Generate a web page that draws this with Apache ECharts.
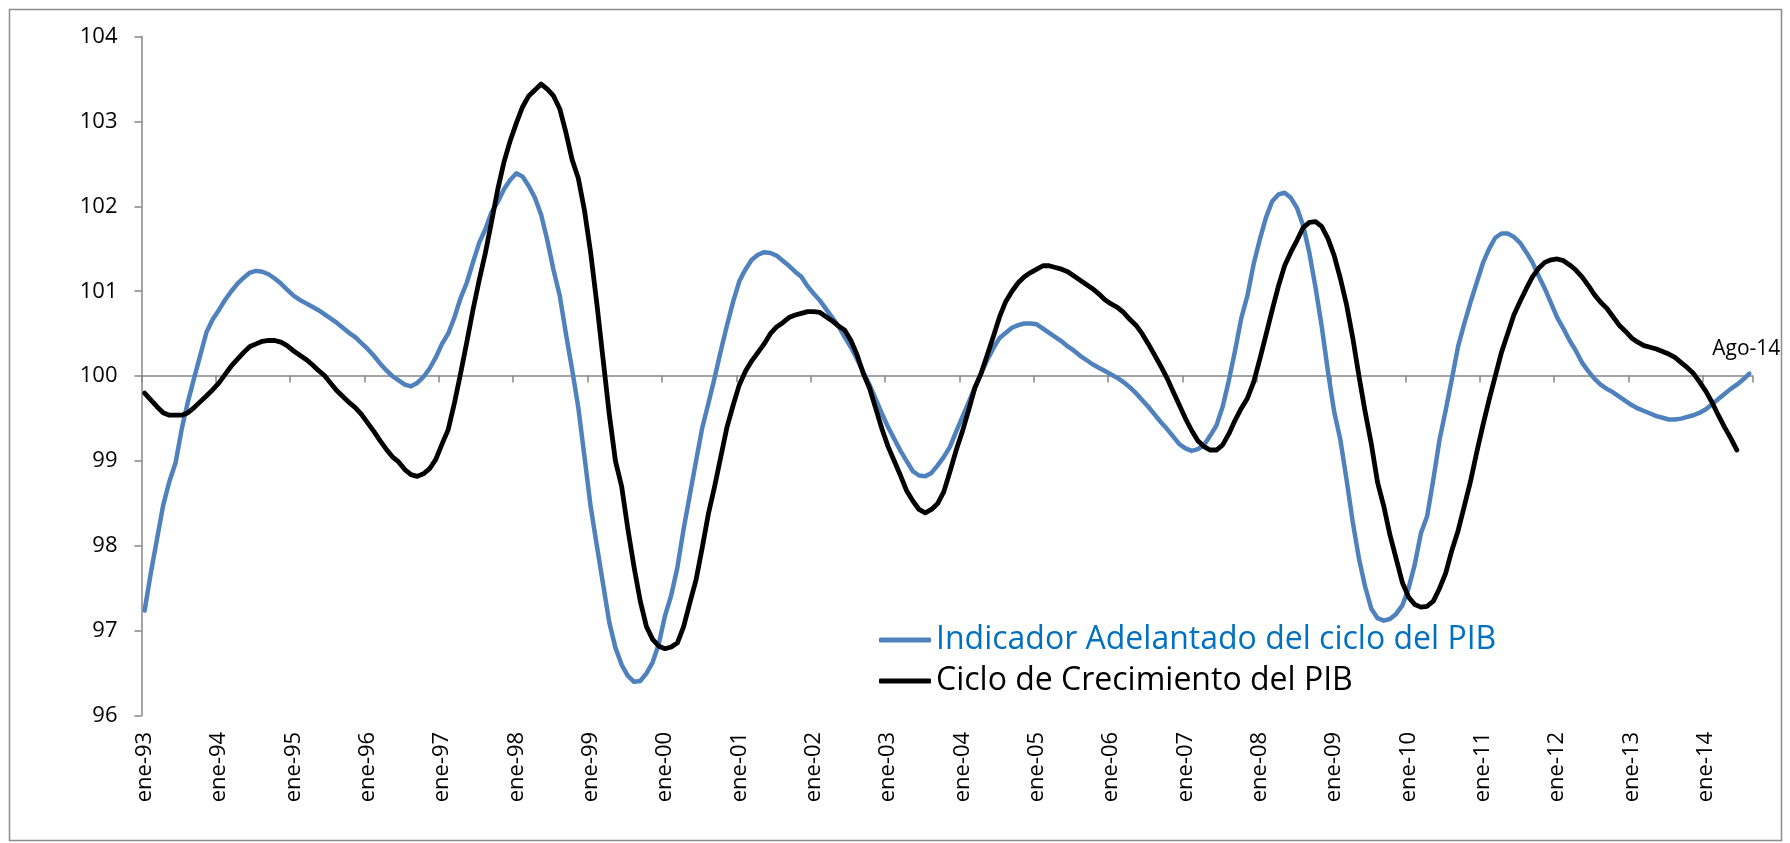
<!DOCTYPE html>
<html>
<head>
<meta charset="utf-8">
<script src="https://cdn.jsdelivr.net/npm/echarts@6/dist/echarts.min.js"></script>
<style>
  html, body { margin: 0; padding: 0; background: #ffffff; }
  #chart { width: 1790px; height: 843px; }
</style>
</head>
<body>
<div id="chart"></div>
<script>
// ---- Data (monthly, ene-93 .. ago-14) ----
const monthNames = ['ene','feb','mar','abr','may','jun','jul','ago','sep','oct','nov','dic'];
const yearLabels = ['93','94','95','96','97','98','99','00','01','02','03','04','05','06','07','08','09','10','11','12','13','14'];
const lastLabel = 'Ago-14';

const indicadorName = 'Indicador Adelantado del ciclo del PIB';
const cicloName = 'Ciclo de Crecimiento del PIB';

// Indicador Adelantado del ciclo del PIB (ene-93 .. ago-14)
const indicadorAdelantado = [
  97.24, 97.68, 98.08, 98.48, 98.76, 98.98, 99.38, 99.70, 99.98, 100.25, 100.52, 100.67,
  100.78, 100.90, 101.00, 101.09, 101.16, 101.22, 101.24, 101.23, 101.20, 101.15, 101.09, 101.02,
  100.95, 100.90, 100.86, 100.82, 100.78, 100.73, 100.68, 100.63, 100.57, 100.51, 100.46, 100.39,
  100.32, 100.24, 100.15, 100.07, 100.00, 99.95, 99.90, 99.88, 99.92, 99.99, 100.09, 100.22,
  100.38, 100.50, 100.69, 100.92, 101.10, 101.34, 101.57, 101.73, 101.93, 102.05, 102.20, 102.31,
  102.39, 102.35, 102.24, 102.10, 101.90, 101.60, 101.25, 100.95, 100.50, 100.08, 99.63, 99.05,
  98.46, 98.00, 97.55, 97.10, 96.80, 96.60, 96.47, 96.40, 96.41, 96.50, 96.63, 96.85,
  97.18, 97.42, 97.75, 98.20, 98.60, 99.00, 99.39, 99.68, 99.98, 100.30, 100.60, 100.88,
  101.12, 101.26, 101.37, 101.43, 101.46, 101.45, 101.42, 101.36, 101.30, 101.23, 101.17, 101.06,
  100.97, 100.89, 100.79, 100.69, 100.59, 100.46, 100.34, 100.20, 100.05, 99.90, 99.73, 99.56,
  99.40, 99.26, 99.12, 99.00, 98.88, 98.83, 98.82, 98.86, 98.95, 99.05, 99.17, 99.35,
  99.52, 99.69, 99.87, 100.03, 100.19, 100.33, 100.45, 100.51, 100.57, 100.60, 100.62, 100.62,
  100.61, 100.56, 100.51, 100.46, 100.41, 100.35, 100.30, 100.24, 100.19, 100.14, 100.10, 100.06,
  100.02, 99.98, 99.93, 99.87, 99.80, 99.72, 99.64, 99.55, 99.46, 99.38, 99.29, 99.20,
  99.15, 99.12, 99.14, 99.19, 99.30, 99.42, 99.64, 99.95, 100.30, 100.68, 100.95, 101.32,
  101.61, 101.87, 102.06, 102.14, 102.16, 102.10, 101.98, 101.77, 101.45, 101.04, 100.58, 100.05,
  99.58, 99.25, 98.78, 98.28, 97.85, 97.52, 97.26, 97.15, 97.12, 97.14, 97.20, 97.30,
  97.50, 97.78, 98.15, 98.35, 98.78, 99.25, 99.60, 99.97, 100.35, 100.62, 100.87, 101.10,
  101.33, 101.50, 101.63, 101.68, 101.68, 101.64, 101.57, 101.46, 101.34, 101.18, 101.03, 100.86,
  100.69, 100.56, 100.42, 100.30, 100.16, 100.06, 99.97, 99.90, 99.85, 99.81, 99.76, 99.71,
  99.66, 99.62, 99.59, 99.56, 99.53, 99.51, 99.49, 99.49, 99.50, 99.52, 99.54, 99.57,
  99.61, 99.67, 99.73, 99.79, 99.85, 99.90, 99.96, 100.03
];

// Ciclo de Crecimiento del PIB (ene-93 .. jun-14)
const cicloCrecimiento = [
  99.80, 99.72, 99.64, 99.57, 99.54, 99.54, 99.54, 99.57, 99.63, 99.70, 99.77, 99.84,
  99.92, 100.02, 100.12, 100.20, 100.28, 100.35, 100.38, 100.41, 100.42, 100.42, 100.40, 100.36,
  100.30, 100.25, 100.20, 100.14, 100.07, 100.01, 99.92, 99.83, 99.76, 99.69, 99.63, 99.55,
  99.45, 99.35, 99.24, 99.14, 99.05, 98.99, 98.90, 98.84, 98.82, 98.85, 98.91, 99.02,
  99.20, 99.37, 99.68, 100.03, 100.40, 100.78, 101.13, 101.45, 101.82, 102.20, 102.52, 102.77,
  102.98, 103.17, 103.30, 103.37, 103.44, 103.38, 103.30, 103.15, 102.87, 102.55, 102.33, 101.95,
  101.45, 100.85, 100.20, 99.55, 99.00, 98.70, 98.20, 97.75, 97.35, 97.05, 96.90, 96.82,
  96.79, 96.81, 96.86, 97.05, 97.33, 97.60, 97.98, 98.38, 98.70, 99.05, 99.40, 99.66,
  99.90, 100.06, 100.18, 100.28, 100.38, 100.50, 100.58, 100.63, 100.69, 100.72, 100.74, 100.76,
  100.76, 100.75, 100.70, 100.65, 100.59, 100.54, 100.42, 100.25, 100.03, 99.86, 99.62, 99.38,
  99.17, 99.00, 98.83, 98.65, 98.53, 98.43, 98.39, 98.43, 98.50, 98.64, 98.88, 99.13,
  99.35, 99.60, 99.86, 100.03, 100.25, 100.47, 100.70, 100.88, 101.00, 101.10, 101.17, 101.22,
  101.26, 101.30, 101.30, 101.28, 101.26, 101.23, 101.18, 101.13, 101.08, 101.03, 100.97, 100.90,
  100.85, 100.81, 100.75, 100.67, 100.60, 100.50, 100.38, 100.25, 100.12, 99.98, 99.82, 99.66,
  99.50, 99.36, 99.24, 99.17, 99.13, 99.13, 99.19, 99.32, 99.48, 99.62, 99.74, 99.93,
  100.20, 100.49, 100.78, 101.06, 101.30, 101.46, 101.60, 101.75, 101.81, 101.82, 101.76, 101.62,
  101.42, 101.15, 100.84, 100.45, 100.00, 99.58, 99.20, 98.75, 98.47, 98.13, 97.85, 97.57,
  97.40, 97.31, 97.28, 97.29, 97.35, 97.50, 97.68, 97.95, 98.18, 98.47, 98.76, 99.10,
  99.42, 99.72, 100.00, 100.28, 100.50, 100.72, 100.88, 101.03, 101.17, 101.27, 101.34, 101.37,
  101.38, 101.36, 101.31, 101.25, 101.17, 101.07, 100.96, 100.87, 100.80, 100.70, 100.60, 100.53,
  100.45, 100.40, 100.36, 100.34, 100.32, 100.29, 100.26, 100.22, 100.16, 100.10, 100.03, 99.93,
  99.82, 99.69, 99.54, 99.40, 99.27, 99.13
];

const yTicks = { min: 96, max: 104, interval: 1 };

// Build category labels (mmm-yy)
const categories = [];
for (const y of yearLabels) {
  for (const m of monthNames) {
    if (categories.length < indicadorAdelantado.length) categories.push(m + '-' + y);
  }
}

const FONT = '"Open Sans", "Noto Sans", sans-serif';
const AXIS_GRAY = '#868686';
const BLUE = '#4F81BD';

const chart = echarts.init(document.getElementById('chart'), null, { renderer: 'canvas' });

chart.setOption({
  animation: false,
  backgroundColor: '#ffffff',
  graphic: [{
    type: 'rect',
    shape: { x: 9.5, y: 9.5, width: 1772, height: 831 },
    style: { fill: 'none', stroke: '#8c8c8c', lineWidth: 1.5 },
    silent: true,
    z: -1
  }],
  grid: {
    left: 141.5,
    right: 37.6,
    top: 36.5,
    bottom: 127.2,
    containLabel: false,
    outerBoundsMode: 'none'
  },
  legend: {
    orient: 'vertical',
    left: 879,
    top: 624,
    padding: 0,
    itemWidth: 52,
    itemHeight: 5,
    itemGap: 9,
    icon: 'roundRect',
    selectedMode: false,
    textStyle: { fontFamily: FONT, fontSize: 32, lineHeight: 32 },
    data: [
      { name: indicadorName, textStyle: { color: '#0070C0' } },
      { name: cicloName, textStyle: { color: '#000000' } }
    ]
  },
  xAxis: [
    {
      type: 'category',
      data: categories,
      position: 'bottom',
      boundaryGap: true,
      axisLine: { show: false },
      axisTick: { show: false },
      splitLine: { show: false },
      axisLabel: {
        interval: 11,
        rotate: 90,
        margin: 16,
        fontFamily: FONT,
        fontSize: 22,
        color: '#000000'
      }
    },
    {
      type: 'category',
      data: categories,
      position: 'bottom',
      offset: -340.2,
      boundaryGap: true,
      axisLine: { show: true, onZero: false, lineStyle: { color: AXIS_GRAY, width: 1.5 } },
      axisTick: { show: true, interval: 11, length: 7, lineStyle: { color: AXIS_GRAY, width: 1.5 } },
      axisLabel: { show: false },
      splitLine: { show: false }
    }
  ],
  yAxis: {
    type: 'value',
    min: yTicks.min,
    max: yTicks.max,
    interval: yTicks.interval,
    axisLine: { show: true, lineStyle: { color: AXIS_GRAY, width: 1.5 } },
    axisTick: { show: true, length: 7, lineStyle: { color: AXIS_GRAY, width: 1.5 } },
    splitLine: { show: false },
    axisLabel: {
      margin: 24,
      fontFamily: FONT,
      fontSize: 22,
      color: '#000000'
    }
  },
  series: [
    {
      name: indicadorName,
      type: 'line',
      xAxisIndex: 0,
      data: indicadorAdelantado,
      symbol: 'none',
      showSymbol: false,
      smooth: false,
      itemStyle: { color: BLUE },
      lineStyle: { color: BLUE, width: 4.5, join: 'round', cap: 'round' },
      endLabel: {
        show: true,
        formatter: lastLabel,
        align: 'center',
        verticalAlign: 'bottom',
        distance: 0,
        offset: [-3, -14],
        fontFamily: FONT,
        fontSize: 21,
        lineHeight: 21,
        color: '#000000'
      },
      z: 2
    },
    {
      name: cicloName,
      type: 'line',
      xAxisIndex: 0,
      data: cicloCrecimiento,
      symbol: 'none',
      showSymbol: false,
      smooth: false,
      itemStyle: { color: '#000000' },
      lineStyle: { color: '#000000', width: 4.8, join: 'round', cap: 'round' },
      z: 3
    }
  ]
});
</script>
</body>
</html>
